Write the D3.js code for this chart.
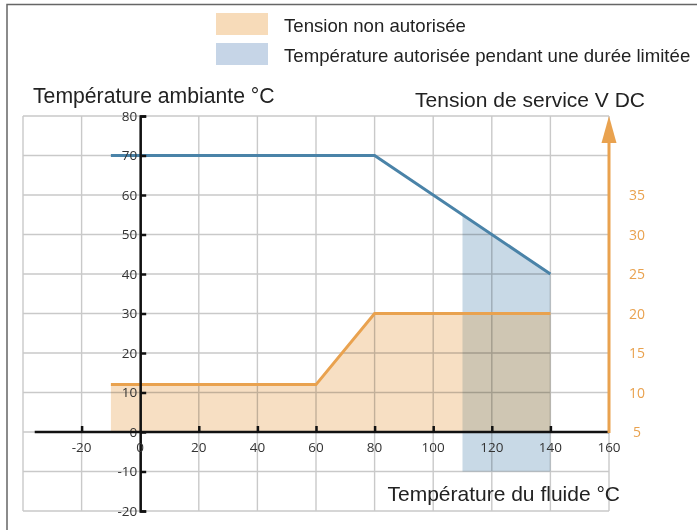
<!DOCTYPE html>
<html><head><meta charset="utf-8">
<script src="https://cdn.jsdelivr.net/npm/d3@7"></script>
<style>
html,body{margin:0;padding:0;background:#fff;}
svg{display:block;}
</style></head>
<body>
<svg id="chart" width="697" height="530"></svg>
<script>
// ---- data ----
const xTicks = [-20, 0, 20, 40, 60, 80, 100, 120, 140, 160];
const yTicks = [-20, -10, 0, 10, 20, 30, 40, 50, 60, 70, 80];
const vTicks = [5, 10, 15, 20, 25, 30, 35];
// ambient temperature limit (°C) vs fluid temperature (°C)
const tempX = [-10, 80, 140];
const tempY = [70, 70, 40];
// service voltage (V DC) vs fluid temperature (°C)
const voltX = [-10, 60, 80, 140];
const voltY = [11, 11, 20, 20];
// limited-duration zone
const limitX = [110, 140];
const limitBottom = -10;
const legendLabels = ["Tension non autorisée", "Température autorisée pendant une durée limitée"];
const titles = {left: "Température ambiante °C", right: "Tension de service V DC", bottom: "Température du fluide °C"};

// ---- scales ----
const svg = d3.select("#chart");
const x = d3.scaleLinear().domain([-40, 160]).range([23, 609]);
const y = d3.scaleLinear().domain([-20, 80]).range([511, 116]);
const v = d3.scaleLinear().domain([-5, 45]).range([511, 116]);

const ORANGE = "#e9a24f", BLUE = "#4a83a8";

// frame
svg.append("path").attr("d", "M7,530 V4.5 H697").attr("fill", "none")
  .attr("stroke", "#666").attr("stroke-width", 1.5);

// grid
const grid = svg.append("g").attr("stroke", "#c9c9c9").attr("stroke-width", 1.4);
d3.range(-40, 161, 20).forEach(t => grid.append("line")
  .attr("x1", x(t)).attr("x2", x(t)).attr("y1", y(80)).attr("y2", y(-20)));
d3.range(-20, 81, 10).forEach(t => grid.append("line")
  .attr("x1", x(-40)).attr("x2", x(160)).attr("y1", y(t)).attr("y2", y(t)));

// fills
const vPts = voltX.map((d, i) => [d, voltY[i]]);
const orangeArea = d3.area().x(d => x(d[0])).y0(y(0)).y1(d => v(d[1]));
const orangeD = orangeArea(vPts);

const tInterp = t => {
  for (let i = 0; i < tempX.length - 1; i++) {
    if (t >= tempX[i] && t <= tempX[i + 1]) {
      const f = (t - tempX[i]) / (tempX[i + 1] - tempX[i]);
      return tempY[i] + f * (tempY[i + 1] - tempY[i]);
    }
  }
  return tempY[tempY.length - 1];
};
const blueTop = limitX.map(t => [t, tInterp(t)]);
const blueD = d3.area().x(d => x(d[0])).y0(y(limitBottom)).y1(d => y(d[1]))(blueTop);

const defs = svg.append("defs");
const mask = defs.append("mask").attr("id", "notOrange").attr("maskUnits", "userSpaceOnUse")
  .attr("x", 0).attr("y", 0).attr("width", 697).attr("height", 530);
mask.append("rect").attr("width", 697).attr("height", 530).attr("fill", "#fff");
mask.append("path").attr("d", orangeD).attr("fill", "#000");
defs.append("clipPath").attr("id", "inOrange").append("path").attr("d", orangeD);

svg.append("path").attr("d", orangeD)
  .attr("fill", "#f7dfc3").style("mix-blend-mode", "multiply");
svg.append("path").attr("d", blueD).attr("mask", "url(#notOrange)")
  .attr("fill", "#c8d9e6").style("mix-blend-mode", "multiply");
svg.append("path").attr("d", blueD).attr("clip-path", "url(#inOrange)")
  .attr("fill", "#d6e3ea").style("mix-blend-mode", "multiply");

// lines
svg.append("path").datum(tempX.map((d, i) => [d, tempY[i]]))
  .attr("d", d3.line().x(d => x(d[0])).y(d => y(d[1])))
  .attr("fill", "none").attr("stroke", BLUE).attr("stroke-width", 3);
svg.append("path").datum(vPts)
  .attr("d", d3.line().x(d => x(d[0])).y(d => v(d[1])))
  .attr("fill", "none").attr("stroke", ORANGE).attr("stroke-width", 3);

// y axis (left, at x=0)
const yAxis = d3.axisRight(y).tickValues(yTicks).tickSize(6).tickFormat("");
const gy = svg.append("g").attr("transform", `translate(${x(0)},0)`).call(yAxis);
gy.select(".domain").attr("stroke", "#111").attr("stroke-width", 2.5);
gy.selectAll(".tick line").attr("stroke", "#111").attr("stroke-width", 2.5);
svg.append("g").selectAll("text").data(yTicks).join("text")
  .attr("x", x(0) - 3).attr("y", d => y(d)).attr("dy", "0.36em")
  .attr("text-anchor", "end").attr("fill", "#333")
  .style("font", "13.5px 'Open Sans', sans-serif").text(d => d);

// x axis (at y=0)
const xAxis = d3.axisTop(x).tickValues(xTicks.filter(d => d !== 0 && d !== 160)).tickSize(6).tickFormat("");
const gx = svg.append("g").attr("transform", `translate(0,${y(0)})`).call(xAxis);
gx.select(".domain").attr("d", `M${x(-36)},0H${x(160)}`).attr("stroke", "#111").attr("stroke-width", 2.5);
gx.selectAll(".tick line").attr("stroke", "#111").attr("stroke-width", 2.5);
svg.append("g").selectAll("text").data(xTicks).join("text")
  .attr("x", d => x(d)).attr("y", y(0) + 15).attr("dy", "0.36em")
  .attr("text-anchor", "middle").attr("fill", "#333")
  .style("font", "13.5px 'Open Sans', sans-serif").text(d => d);

// right (voltage) axis with arrow
svg.append("line").attr("x1", x(160)).attr("x2", x(160))
  .attr("y1", v(5) + 1).attr("y2", y(80) + 20)
  .attr("stroke", ORANGE).attr("stroke-width", 3);
svg.append("path")
  .attr("d", `M${x(160)},${y(80)} L${x(160) + 7.5},${y(80) + 27} L${x(160) - 7.5},${y(80) + 27} Z`)
  .attr("fill", ORANGE);
svg.append("g").selectAll("text").data(vTicks).join("text")
  .attr("x", x(160) + 28).attr("y", d => v(d)).attr("dy", "0.36em")
  .attr("text-anchor", "middle").attr("fill", ORANGE)
  .style("font", "14px 'Open Sans', sans-serif").text(d => d);

// titles
const tf = "21px 'Liberation Sans', Arial, sans-serif";
svg.append("text").attr("x", 33).attr("y", 103).attr("fill", "#222").style("font", "21.2px 'Liberation Sans', Arial, sans-serif").text(titles.left);
svg.append("text").attr("x", 645).attr("y", 107).attr("text-anchor", "end").attr("fill", "#222").style("font", tf).text(titles.right);
svg.append("text").attr("x", 620).attr("y", 501).attr("text-anchor", "end").attr("fill", "#222").style("font", tf).text(titles.bottom);

// legend
const legendColors = ["#f7dbb9", "#c6d5e7"];
const lg = svg.append("g");
legendLabels.forEach((lab, i) => {
  lg.append("rect").attr("x", 216).attr("y", 13 + i * 30).attr("width", 52).attr("height", 22)
    .attr("fill", legendColors[i]);
  lg.append("text").attr("x", 284).attr("y", 32 + i * 30).attr("fill", "#222")
    .style("font", "18.6px 'Liberation Sans', Arial, sans-serif").text(lab);
});
</script>
</body></html>
